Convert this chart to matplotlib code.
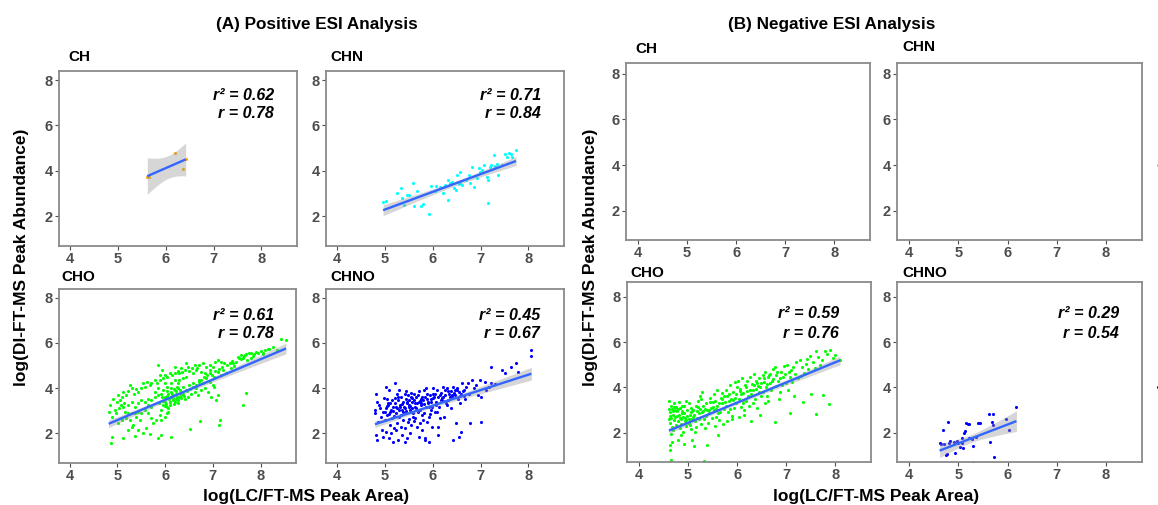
import numpy as np
import matplotlib
matplotlib.use("Agg")
import matplotlib.pyplot as plt
from matplotlib import font_manager

W, H = 1158, 505
plt.rcParams['font.family'] = ['Liberation Sans', 'DejaVu Sans']

# narrow bold face for the tick labels if installed
try:
    font_manager.findfont(font_manager.FontProperties(family='Liberation Sans Narrow', weight='bold'),
                          fallback_to_default=False)
    TICK_FAMILY, TICK_SIZE = 'Liberation Sans Narrow', 11.2
except Exception:
    TICK_FAMILY, TICK_SIZE = 'Liberation Sans', 10.5

# ---------------- data ----------------
pos_ch = [(5.62, 3.72), (5.66, 3.73), (6.20, 4.77), (6.42, 4.52), (6.37, 4.07)]

pos_chn = [(4.97, 2.63), (5.04, 2.67), (5.26, 3.03), (5.35, 3.22), (5.36, 2.78), (5.47, 2.92), (5.40, 2.48),
           (5.59, 3.47), (5.68, 3.11), (5.62, 2.45), (5.76, 2.44), (5.80, 2.53), (5.93, 2.07), (5.96, 3.33),
           (6.08, 3.32), (6.16, 3.29), (6.22, 3.03), (6.32, 2.70), (6.27, 3.36), (6.32, 3.58), (6.41, 3.51),
           (6.48, 3.17), (6.44, 3.22), (6.51, 3.83), (6.57, 3.95), (6.58, 3.44), (6.62, 3.36), (6.69, 3.61),
           (6.76, 3.80), (6.78, 3.44), (6.83, 4.17), (6.87, 3.29), (6.93, 3.66), (6.99, 3.88), (6.97, 4.10),
           (7.03, 4.02), (7.08, 4.24), (7.14, 3.73), (7.15, 2.59), (7.19, 4.17), (7.28, 4.68), (7.52, 4.75),
           (7.56, 4.61), (7.59, 4.78), (7.63, 4.75), (7.74, 4.90), (7.35, 4.31), (7.21, 4.24), (7.31, 4.20),
           (7.37, 3.80), (7.15, 3.58), (6.99, 3.95), (6.55, 3.40), (6.37, 3.45), (6.05, 3.10), (5.52, 2.95),
           (7.45, 4.25), (7.66, 4.62)]

pos_cho = [(4.84, 3.25), (4.82, 2.95), (4.88, 2.73), (4.91, 3.54), (4.95, 3.03), (4.88, 1.85), (4.86, 1.59),
           (4.98, 2.88), (5.00, 3.40), (5.02, 3.69), (5.03, 3.10), (5.05, 3.47), (5.09, 3.62), (5.12, 3.84),
           (5.12, 3.18), (5.07, 3.25), (5.14, 3.32), (5.16, 2.95), (5.19, 3.69), (5.23, 3.88), (5.23, 3.25),
           (5.23, 2.88), (5.23, 2.15), (5.19, 2.66), (5.09, 2.59), (5.02, 2.44), (5.12, 1.78), (5.26, 4.13),
           (5.30, 3.99), (5.35, 3.76), (5.40, 3.94), (5.43, 3.84), (5.30, 3.40), (5.37, 3.18), (5.43, 3.32),
           (5.30, 2.88), (5.37, 2.88), (5.43, 2.95), (5.26, 2.59), (5.33, 2.37), (5.40, 2.73), (5.47, 2.59),
           (5.30, 2.29), (5.43, 2.15), (5.37, 1.88), (5.50, 3.99), (5.54, 4.21), (5.57, 4.06), (5.63, 4.28),
           (5.68, 4.13), (5.71, 4.24), (5.50, 3.47), (5.57, 3.40), (5.64, 3.54), (5.71, 3.47), (5.50, 2.88),
           (5.57, 3.03), (5.64, 3.25), (5.71, 3.18), (5.64, 2.88), (5.71, 2.66), (5.75, 2.44), (5.61, 2.22),
           (5.54, 2.00), (5.68, 1.97), (5.78, 4.35), (5.84, 4.21), (5.85, 5.02), (5.89, 4.35), (5.96, 4.43),
           (5.89, 4.57), (5.94, 4.80), (5.78, 3.62), (5.85, 3.69), (5.92, 3.76), (5.78, 3.84), (5.85, 3.99),
           (5.96, 3.91), (5.99, 3.62), (5.82, 2.59), (5.89, 2.81), (5.92, 3.03), (5.96, 3.25), (5.99, 3.40),
           (5.92, 2.59), (5.99, 2.73), (5.92, 1.92), (5.85, 1.78), (5.99, 4.57), (6.05, 4.50), (6.10, 4.65),
           (6.14, 4.57), (6.20, 4.68), (5.99, 4.21), (6.03, 4.06), (6.13, 4.21), (6.20, 4.35), (6.20, 4.94),
           (6.06, 3.76), (6.13, 3.84), (6.20, 3.91), (6.13, 3.62), (6.17, 3.69), (6.23, 3.76), (6.03, 3.18),
           (6.06, 2.95), (6.10, 3.40), (6.17, 3.47), (6.20, 3.40), (6.23, 3.54), (6.03, 2.88), (6.06, 3.10),
           (6.10, 3.25), (6.13, 1.85), (6.26, 4.76), (6.30, 4.65), (6.35, 4.72), (6.27, 4.72), (6.34, 4.87),
           (6.27, 4.21), (6.30, 4.35), (6.37, 4.43), (6.44, 4.50), (6.27, 3.99), (6.37, 4.06), (6.33, 3.76),
           (6.44, 3.91), (6.27, 3.32), (6.30, 3.62), (6.34, 3.69), (6.41, 3.54), (6.48, 3.62), (6.41, 4.82),
           (6.48, 4.94), (6.44, 5.09), (6.51, 4.76), (6.56, 4.87), (6.62, 5.02), (6.67, 4.91), (6.72, 5.02),
           (6.51, 4.13), (6.58, 4.21), (6.58, 4.65), (6.65, 4.80), (6.55, 3.76), (6.62, 3.84), (6.69, 3.69),
           (6.65, 3.99), (6.72, 4.35), (6.53, 2.19), (6.74, 2.56), (6.79, 5.09), (6.86, 4.94), (6.93, 5.02),
           (6.76, 4.72), (6.83, 4.68), (6.93, 4.80), (7.00, 4.94), (6.79, 4.21), (6.86, 4.43), (6.93, 4.28),
           (6.98, 4.57), (6.76, 3.91), (6.83, 3.99), (6.90, 3.84), (6.97, 3.62), (7.05, 5.16), (7.10, 5.24),
           (7.17, 5.16), (7.24, 5.09), (7.03, 4.50), (7.10, 4.72), (7.16, 4.57), (7.21, 4.80), (7.03, 4.06),
           (7.00, 4.13), (7.10, 3.69), (7.07, 3.47), (7.14, 2.59), (7.12, 2.37), (7.30, 5.02), (7.35, 5.12),
           (7.42, 5.09), (7.49, 5.16), (7.28, 4.65), (7.38, 4.87), (7.45, 4.97), (7.52, 5.38), (7.58, 5.27),
           (7.59, 5.46), (7.64, 5.31), (7.65, 5.41), (7.70, 5.50), (7.72, 5.24), (7.75, 5.53), (7.70, 3.79),
           (7.63, 3.25), (7.80, 5.56), (7.80, 5.31), (7.86, 5.50), (7.91, 5.60), (7.95, 5.53), (8.01, 5.65),
           (8.04, 5.56), (8.09, 5.68), (8.15, 5.71), (8.42, 6.19), (8.53, 6.12), (8.26, 5.82), (8.34, 5.68),
           (8.18, 5.75), (5.95, 3.45), (6.00, 3.55), (6.02, 3.30), (6.05, 3.65), (6.08, 3.50), (6.11, 3.38),
           (6.14, 3.72), (6.16, 3.58), (6.19, 3.30), (6.22, 3.85), (6.25, 3.62), (6.28, 3.48), (6.31, 3.90),
           (6.34, 3.55), (6.38, 3.75), (6.05, 3.85), (6.00, 3.20), (5.93, 3.60), (5.88, 3.35), (6.12, 4.00),
           (6.18, 3.95), (6.24, 4.05), (6.40, 3.65), (6.46, 3.85), (6.52, 3.95), (6.58, 4.05), (6.64, 4.15),
           (6.70, 4.25), (6.76, 4.35), (6.82, 4.50), (6.88, 4.60), (6.95, 4.65), (7.05, 4.75), (7.12, 4.85),
           (7.20, 4.95), (7.40, 5.20), (7.55, 5.35), (7.68, 5.45), (7.85, 5.40), (8.05, 5.50)]

pos_chno = [(4.82, 3.76), (4.85, 3.40), (4.88, 3.25), (4.80, 3.03), (4.93, 2.73), (4.86, 2.51), (4.95, 2.14),
            (4.83, 1.92), (4.97, 1.85), (4.84, 1.71), (4.90, 3.10), (4.96, 2.95), (4.81, 2.90), (4.98, 3.55),
            (5.02, 4.06), (5.10, 3.91), (5.05, 3.54), (5.15, 3.47), (5.08, 3.32), (5.18, 3.18), (5.03, 3.10),
            (5.12, 2.95), (5.06, 2.81), (5.16, 2.66), (5.01, 2.59), (5.11, 2.37), (5.19, 2.22), (5.04, 2.07),
            (5.14, 2.00), (5.09, 1.78), (5.17, 1.63), (5.13, 3.05), (5.07, 3.25), (5.00, 2.95), (5.22, 4.21),
            (5.30, 3.91), (5.25, 3.76), (5.35, 3.62), (5.28, 3.47), (5.38, 3.40), (5.21, 3.32), (5.33, 3.18),
            (5.26, 3.10), (5.36, 3.03), (5.24, 2.88), (5.31, 2.73), (5.39, 2.59), (5.27, 2.44), (5.34, 2.29),
            (5.23, 2.14), (5.37, 1.92), (5.29, 1.71), (5.32, 3.25), (5.38, 2.95), (5.22, 3.55), (5.42, 3.76),
            (5.48, 3.69), (5.55, 3.62), (5.44, 3.54), (5.52, 3.47), (5.58, 3.40), (5.46, 3.32), (5.50, 3.25),
            (5.41, 3.18), (5.57, 3.10), (5.53, 3.03), (5.45, 2.88), (5.59, 2.73), (5.49, 2.51), (5.56, 2.37),
            (5.43, 2.22), (5.54, 2.00), (5.47, 1.78), (5.43, 1.63), (5.51, 3.15), (5.58, 2.95), (5.45, 3.00),
            (5.62, 3.76), (5.70, 3.69), (5.66, 3.62), (5.75, 3.54), (5.61, 3.47), (5.72, 3.40), (5.68, 3.32),
            (5.77, 3.25), (5.64, 3.18), (5.74, 3.03), (5.69, 2.95), (5.79, 2.81), (5.63, 2.66), (5.73, 2.44),
            (5.67, 2.29), (5.78, 2.14), (5.71, 1.85), (5.65, 3.10), (5.76, 3.35), (5.60, 2.90), (5.82, 3.91),
            (5.88, 3.76), (5.94, 3.69), (5.85, 3.62), (5.97, 3.54), (5.81, 3.47), (5.91, 3.32), (5.86, 3.18),
            (5.96, 3.03), (5.83, 2.88), (5.93, 2.73), (5.89, 2.51), (5.98, 2.29), (5.84, 1.78), (5.85, 1.71),
            (5.93, 1.63), (5.90, 3.40), (5.99, 3.15), (6.02, 3.99), (6.10, 3.91), (6.06, 3.76), (6.15, 3.69),
            (6.03, 3.62), (6.18, 3.47), (6.08, 3.32), (6.13, 3.18), (6.05, 2.95), (6.16, 2.66), (6.11, 2.29),
            (6.12, 1.93), (6.19, 3.55), (6.07, 3.40), (6.22, 4.06), (6.30, 3.99), (6.26, 3.91), (6.35, 3.76),
            (6.21, 3.62), (6.33, 3.47), (6.28, 3.32), (6.38, 3.10), (6.24, 2.73), (6.36, 3.60), (6.31, 3.25),
            (6.39, 3.85), (6.42, 4.06), (6.50, 3.99), (6.46, 3.91), (6.55, 3.84), (6.41, 3.69), (6.53, 3.54),
            (6.58, 3.32), (6.48, 2.44), (6.43, 1.71), (6.55, 1.85), (6.59, 2.07), (6.45, 3.80), (6.57, 3.65),
            (6.62, 4.21), (6.70, 4.06), (6.66, 3.91), (6.75, 3.76), (6.68, 3.54), (6.74, 4.21), (6.78, 2.44),
            (6.64, 3.85), (6.82, 4.35), (6.90, 4.13), (6.86, 3.99), (6.95, 3.69), (6.98, 4.35), (7.02, 3.62),
            (7.02, 2.51), (7.09, 4.28), (7.21, 4.21), (7.17, 4.06), (7.21, 4.94), (7.44, 4.79), (7.52, 4.65),
            (7.64, 4.94), (7.75, 5.09), (7.79, 4.72), (8.06, 5.68), (8.06, 5.41), (7.30, 4.20), (7.12, 3.90),
            (5.05, 3.20), (5.12, 3.35), (5.18, 3.00), (5.24, 3.15), (5.30, 3.05), (5.36, 3.30), (5.42, 3.10),
            (5.47, 3.40), (5.53, 3.20), (5.58, 3.55), (5.63, 3.35), (5.68, 3.05), (5.73, 3.45), (5.78, 3.60),
            (5.83, 3.30), (5.88, 3.50), (5.92, 3.15), (5.97, 3.40), (6.02, 3.55), (6.07, 3.25), (6.12, 3.60),
            (6.17, 3.80), (6.22, 3.45), (6.27, 3.70), (6.33, 3.85), (6.40, 3.60), (6.47, 3.70), (6.52, 3.90),
            (6.60, 3.75), (6.66, 3.65), (5.10, 2.85), (5.20, 2.75), (5.35, 2.80), (5.50, 2.65), (5.62, 2.55),
            (5.80, 2.60), (5.95, 2.85), (6.10, 2.95), (5.28, 3.60), (5.44, 3.85), (5.56, 3.80), (5.72, 3.85),
            (5.86, 4.00), (6.00, 3.75)]

neg_ch = []
neg_chn = []

neg_cho = [(4.62, 3.40), (4.65, 3.20), (4.68, 3.05), (4.63, 2.90), (4.70, 2.80), (4.66, 2.65), (4.72, 2.55),
           (4.64, 2.45), (4.75, 2.35), (4.67, 2.25), (4.78, 2.95), (4.71, 3.30), (4.76, 3.15), (4.69, 2.10),
           (4.73, 2.70), (4.62, 2.60), (4.65, 1.95), (4.68, 1.60), (4.64, 1.24), (4.66, 0.80), (4.63, 1.45),
           (4.79, 2.50), (4.74, 3.00), (4.81, 3.35), (4.84, 3.10), (4.88, 2.95), (4.82, 2.80), (4.90, 2.70),
           (4.86, 2.60), (4.93, 2.50), (4.85, 2.40), (4.95, 2.30), (4.87, 2.85), (4.92, 3.20), (4.97, 3.00),
           (4.83, 2.20), (4.89, 2.05), (4.86, 1.90), (4.91, 1.50), (4.98, 0.73), (4.94, 2.65), (4.99, 2.45),
           (4.80, 1.70), (4.96, 3.40), (5.02, 3.30), (5.05, 3.10), (5.08, 2.95), (5.03, 2.80), (5.11, 2.70),
           (5.07, 2.60), (5.14, 2.50), (5.04, 2.35), (5.17, 2.25), (5.10, 3.00), (5.20, 3.15), (5.23, 2.85),
           (5.09, 1.68), (5.15, 2.05), (5.21, 3.40), (5.12, 1.40), (5.18, 2.65), (5.06, 2.15), (5.24, 3.60),
           (5.01, 2.60), (5.27, 3.50), (5.30, 3.20), (5.34, 3.05), (5.28, 2.90), (5.37, 2.75), (5.32, 2.60),
           (5.40, 2.45), (5.44, 3.35), (5.47, 3.10), (5.42, 2.85), (5.32, 0.77), (5.39, 1.46), (5.35, 2.20),
           (5.48, 2.65), (5.29, 3.80), (5.45, 3.55), (5.38, 3.00), (5.26, 2.40), (5.52, 3.70), (5.55, 3.40),
           (5.58, 3.20), (5.53, 3.00), (5.61, 2.85), (5.57, 2.70), (5.64, 2.55), (5.67, 3.55), (5.70, 3.30),
           (5.73, 3.05), (5.60, 3.90), (5.66, 2.90), (5.72, 2.40), (5.54, 2.30), (5.62, 1.90), (5.69, 3.75),
           (5.74, 3.60), (5.51, 3.15), (5.77, 3.90), (5.80, 3.60), (5.83, 3.40), (5.78, 3.20), (5.86, 3.05),
           (5.82, 2.90), (5.89, 2.75), (5.92, 3.80), (5.95, 3.55), (5.98, 3.30), (5.85, 4.10), (5.90, 2.60),
           (5.96, 4.25), (5.88, 3.50), (5.79, 2.50), (5.93, 3.10), (5.99, 4.00), (6.02, 4.30), (6.05, 3.95),
           (6.08, 3.70), (6.03, 3.50), (6.11, 3.30), (6.07, 3.15), (6.14, 3.00), (6.17, 4.10), (6.20, 3.85),
           (6.23, 3.60), (6.10, 4.40), (6.15, 2.80), (6.21, 4.30), (6.12, 3.45), (6.04, 2.70), (6.18, 3.40),
           (6.24, 3.20), (6.27, 4.45), (6.30, 4.15), (6.33, 3.90), (6.28, 3.70), (6.36, 3.50), (6.32, 3.30),
           (6.39, 4.30), (6.42, 4.05), (6.45, 3.80), (6.48, 3.60), (6.35, 4.60), (6.40, 3.10), (6.46, 2.80),
           (6.29, 2.50), (6.44, 4.40), (6.38, 3.95), (6.49, 4.20), (6.52, 4.55), (6.55, 4.25), (6.58, 4.00),
           (6.53, 3.80), (6.61, 3.60), (6.57, 4.70), (6.64, 4.45), (6.67, 4.20), (6.70, 3.90), (6.73, 4.80),
           (6.62, 3.40), (6.68, 4.60), (6.74, 4.35), (6.56, 3.30), (6.78, 4.90), (6.80, 4.55), (6.84, 4.30),
           (6.79, 4.05), (6.87, 3.80), (6.90, 4.70), (6.93, 4.45), (6.96, 4.95), (6.78, 2.48), (6.99, 4.20),
           (6.85, 3.50), (6.92, 4.10), (7.02, 5.00), (7.05, 4.70), (7.08, 4.45), (7.11, 4.25), (7.14, 4.90),
           (7.18, 4.60), (7.07, 2.85), (7.21, 5.10), (7.24, 4.40), (7.03, 3.90), (7.16, 3.60), (7.28, 5.20),
           (7.32, 4.90), (7.36, 4.65), (7.40, 5.05), (7.42, 5.26), (7.35, 3.36), (7.45, 4.80), (7.48, 5.40),
           (7.30, 4.50), (7.50, 3.72), (7.55, 5.10), (7.61, 5.62), (7.65, 5.33), (7.61, 2.82), (7.70, 5.00),
           (7.58, 4.85), (7.73, 5.20), (7.76, 3.65), (7.80, 5.62), (7.83, 5.47), (7.87, 3.28), (7.95, 5.30),
           (8.00, 5.45), (8.10, 5.20), (7.90, 5.65), (4.61, 3.05), (4.70, 2.95), (4.77, 2.75), (4.84, 2.65),
           (4.91, 2.85), (4.98, 2.75), (5.05, 2.90), (5.13, 2.80), (5.19, 2.95), (5.25, 3.05), (4.64, 2.75),
           (4.72, 3.15), (4.80, 3.05), (4.87, 3.20), (4.95, 2.55), (5.02, 2.45), (5.10, 2.55), (5.16, 3.20),
           (5.22, 2.60), (5.31, 2.95), (5.36, 3.30), (5.43, 3.00), (5.50, 3.35), (5.56, 3.05), (5.63, 3.30),
           (5.70, 3.50), (5.76, 3.35), (5.84, 3.70), (5.91, 3.45), (5.97, 3.70), (6.06, 3.85), (6.13, 3.75),
           (6.19, 4.00), (6.26, 3.90), (6.34, 4.10), (6.41, 4.20), (6.47, 4.00), (6.54, 4.40), (6.60, 4.15),
           (6.66, 4.55), (6.72, 4.30), (6.82, 4.70), (6.88, 4.40), (6.97, 4.60), (7.10, 4.75)]

neg_chno = [(4.62, 1.54), (4.65, 1.52), (4.71, 1.49), (4.69, 2.14), (4.77, 1.07), (4.75, 1.03), (4.80, 2.48),
            (4.81, 1.54), (4.83, 1.65), (4.92, 1.61), (4.94, 1.10), (4.97, 1.65), (4.99, 1.54), (5.04, 1.39),
            (5.07, 1.75), (5.10, 1.32), (5.12, 2.00), (5.14, 2.07), (5.15, 2.41), (5.19, 2.38), (5.22, 2.40),
            (5.07, 1.54), (5.22, 1.75), (5.27, 1.71), (5.30, 1.40), (5.40, 2.43), (5.44, 2.41), (5.63, 2.81),
            (5.65, 1.61), (5.69, 2.48), (5.71, 2.33), (5.73, 0.95), (5.29, 0.66), (5.71, 2.82), (5.96, 2.62),
            (6.02, 2.10), (6.18, 3.12), (5.35, 1.80)]

# stray points sitting past the right edge of the negative panels
neg_chn_stray = [(9.06, 4.0)]
neg_chno_stray = [(9.06, 4.0)]

# regression lines as drawn in the picture: (intercept, slope)
fit_lines = {
    ('A', 'CH'): (-1.432, 0.924), ('A', 'CHN'): (-1.632, 0.783),
    ('A', 'CHO'): (-1.900, 0.897), ('A', 'CHNO'): (-0.885, 0.685),
    ('B', 'CHO'): (-2.005, 0.889), ('B', 'CHNO'): (-2.640, 0.834),
}

stats = {
    ('A', 'CH'): ('0.62', '0.78'), ('A', 'CHN'): ('0.71', '0.84'),
    ('A', 'CHO'): ('0.61', '0.78'), ('A', 'CHNO'): ('0.45', '0.67'),
    ('B', 'CHO'): ('0.59', '0.76'), ('B', 'CHNO'): ('0.29', '0.54'),
}
colors = {'CH': '#FFA500', 'CHN': '#00FFFF', 'CHO': '#00FF00', 'CHNO': '#0000FF'}
x_ticks = [4, 5, 6, 7, 8]
y_ticks = [2, 4, 6, 8]

# ---------------- layout (figure pixel boxes) ----------------
fig = plt.figure(figsize=(W / 100, H / 100), dpi=100)


def ax_px(l, t, r, b):
    return fig.add_axes([l / W, 1 - b / H, (r - l) / W, (b - t) / H])


def t_quant(df):
    z = 1.959964
    return (z + (z ** 3 + z) / (4 * df) + (5 * z ** 5 + 16 * z ** 3 + 3 * z) / (96 * df ** 2)
            + (3 * z ** 7 + 19 * z ** 5 + 17 * z ** 3 - 15 * z) / (384 * df ** 3))


def draw_fit(ax, pts, coef):
    p = np.array(pts)
    x, y = p[:, 0], p[:, 1]
    n = len(x)
    a, b = coef
    xs = np.linspace(x.min(), x.max(), 100)
    yh = a + b * xs
    res = y - (a + b * x)
    s = np.sqrt((res ** 2).sum() / (n - 2))
    sxx = ((x - x.mean()) ** 2).sum()
    se = s * np.sqrt(1 / n + (xs - x.mean()) ** 2 / sxx) * t_quant(n - 2)
    ax.fill_between(xs, yh - se, yh + se, color='#999999', alpha=0.4, lw=0, zorder=3)
    ax.plot(xs, yh, color='#3366FF', lw=1.7, zorder=4, solid_capstyle='butt')


panels = [
    ('A', 'CH', pos_ch, (59, 71, 297, 246), (0.68, 8.40), (68, 57), (274, 95, 113)),
    ('A', 'CHN', pos_chn, (326, 71, 564, 246), (0.68, 8.40), (330, 57), (541, 95, 113)),
    ('A', 'CHO', pos_cho, (59, 289, 296, 463), (0.69, 8.38), (61, 277), (274, 315, 334)),
    ('A', 'CHNO', pos_chno, (326, 289, 564, 463), (0.69, 8.38), (330, 277), (540, 315, 334)),
    ('B', 'CH', neg_ch, (626, 63, 870, 240), (0.71, 8.48), (635, 49), None),
    ('B', 'CHN', neg_chn, (897, 63, 1142, 240), (0.71, 8.48), (902, 47), None),
    ('B', 'CHO', neg_cho, (627, 282, 871, 462), (0.71, 8.65), (630, 273), (839, 313, 334)),
    ('B', 'CHNO', neg_chno, (897, 282, 1142, 462), (0.71, 8.65), (902, 273), (1119, 313, 334)),
]

for grp, name, pts, box, ylim, lab, txt in panels:
    ax = ax_px(*box)
    ax.set_xlim(3.78 if grp == 'A' else 3.755, 8.74 if grp == 'A' else 8.73)
    ax.set_ylim(*ylim)
    ax.set_xticks(x_ticks)
    ax.set_yticks(y_ticks)
    ax.tick_params(length=3, width=0.8, color='#4D4D4D', pad=1.5,
                   labelsize=TICK_SIZE, labelcolor='#4D4D4D')
    for lbl in ax.get_xticklabels() + ax.get_yticklabels():
        lbl.set_fontweight('bold')
        lbl.set_family(TICK_FAMILY)
    for sp in ax.spines.values():
        sp.set_color('#8A8A8A')
        sp.set_linewidth(1.3)
    if pts:
        p = np.array(pts)
        ax.scatter(p[:, 0], p[:, 1], s=5, color=colors[name], linewidths=0, zorder=2)
        draw_fit(ax, pts, fit_lines[(grp, name)])
    if grp == 'B' and name == 'CHN':
        p = np.array(neg_chn_stray)
        ax.scatter(p[:, 0], p[:, 1], s=5, color=colors['CHN'], linewidths=0, clip_on=False)
    if grp == 'B' and name == 'CHNO':
        p = np.array(neg_chno_stray)
        ax.scatter(p[:, 0], p[:, 1], s=5, color=colors['CHNO'], linewidths=0, clip_on=False)
    fig.text(lab[0] / W, 1 - lab[1] / H, name, fontsize=11, fontweight='bold',
             ha='left', va='center', color='black')
    if txt is not None:
        r2, r = stats[(grp, name)]
        fig.text(txt[0] / W, 1 - txt[1] / H, 'r\u00b2 = ' + r2, fontsize=11.5, fontweight='bold',
                 fontstyle='italic', ha='right', va='center', color='black')
        fig.text(txt[0] / W, 1 - txt[2] / H, 'r = ' + r, fontsize=11.5, fontweight='bold',
                 fontstyle='italic', ha='right', va='center', color='black')

fig.text(317 / W, 1 - 25 / H, '(A) Positive ESI Analysis', fontsize=12.3, fontweight='bold',
         ha='center', va='center')
fig.text(832 / W, 1 - 25 / H, '(B) Negative ESI Analysis', fontsize=12.3, fontweight='bold',
         ha='center', va='center')
fig.text(306 / W, 1 - 497 / H, 'log(LC/FT-MS Peak Area)', fontsize=12.5, fontweight='bold',
         ha='center', va='center')
fig.text(876 / W, 1 - 497 / H, 'log(LC/FT-MS Peak Area)', fontsize=12.5, fontweight='bold',
         ha='center', va='center')
fig.text(22 / W, 1 - 257 / H, 'log(DI-FT-MS Peak Abundance)', fontsize=12.5, fontweight='bold',
         ha='center', va='center', rotation=90)
fig.text(591 / W, 1 - 257 / H, 'log(DI-FT-MS Peak Abundance)', fontsize=12.5, fontweight='bold',
         ha='center', va='center', rotation=90)

fig.savefig('out.png', dpi=100)
